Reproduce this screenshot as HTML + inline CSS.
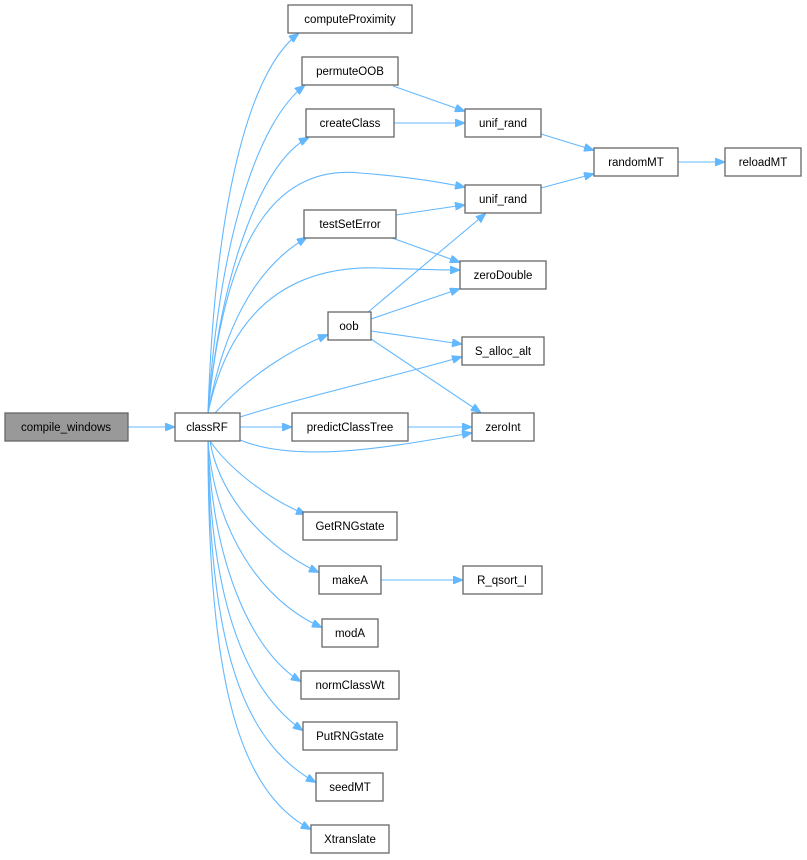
<!DOCTYPE html>
<html><head><meta charset="utf-8"><style>
body{margin:0;background:#fff}
svg{display:block}
text{font-family:"Liberation Sans",sans-serif;font-size:11.5px;fill:#000;text-anchor:middle}
.n{fill:#fff;stroke:#666;stroke-width:1.3}
.e{fill:none;stroke:#63b8ff;stroke-width:1.1}
</style></head><body>
<svg width="807" height="860" viewBox="0 0 807 860">
<defs><marker id="a" markerWidth="10" markerHeight="8" refX="9" refY="4" orient="auto" markerUnits="userSpaceOnUse"><path d="M0,0 L10,4 L0,8z" fill="#63b8ff" stroke="#63b8ff"/></marker></defs>
<g class="e" marker-end="url(#a)">
<path d="M128,427 H174"/>
<path d="M240,427 H291"/>
<path d="M208,413 C215,200 250,70 298,34"/>
<path d="M208,413 C220,230 260,120 304,86"/>
<path d="M208,413 C222,260 265,160 308,138"/>
<path d="M208,413 C225,230 280,165 360,173 C400,176 430,180 464,187"/>
<path d="M208,413 C225,320 260,265 306,238"/>
<path d="M208,413 C230,310 290,265 380,268 C410,269 440,270 459,270"/>
<path d="M215,413 C250,375 290,350 327,335"/>
<path d="M240,417 C310,395 400,375 461,357"/>
<path d="M240,440 C300,465 400,445 471,433"/>
<path d="M210,441 C230,470 270,500 305,514"/>
<path d="M210,441 C220,500 270,550 318,572"/>
<path d="M208,441 C215,530 260,600 321,627"/>
<path d="M208,441 C212,560 250,650 300,681"/>
<path d="M208,441 C210,600 245,690 302,730"/>
<path d="M208,441 C209,640 240,740 315,782"/>
<path d="M208,441 C208,680 238,790 310,829"/>
<path d="M393,86 L464,111"/>
<path d="M394,123 H464"/>
<path d="M541,134 L593,150"/>
<path d="M541,188 L593,174"/>
<path d="M678,162 H724"/>
<path d="M396,215 L464,205"/>
<path d="M392,238 L459,262"/>
<path d="M367,313 L485,214"/>
<path d="M371,319 L459,289"/>
<path d="M371,331 L461,344"/>
<path d="M371,339 L480,412"/>
<path d="M408,427 H471"/>
<path d="M381,580 H462"/>
</g>
<g>
<rect x="5" y="413" width="123" height="28" fill="#999" stroke="#666" stroke-width="1.3"/><text x="66" y="431">compile_windows</text>
<rect class="n" x="175" y="413" width="65" height="28"/><text x="207" y="431">classRF</text>
<rect class="n" x="288" y="5" width="124" height="28"/><text x="350" y="23">computeProximity</text>
<rect class="n" x="302" y="57" width="96" height="28"/><text x="350" y="75">permuteOOB</text>
<rect class="n" x="306" y="109" width="88" height="28"/><text x="350" y="127">createClass</text>
<rect class="n" x="304" y="210" width="92" height="28"/><text x="350" y="228">testSetError</text>
<rect class="n" x="328" y="312" width="43" height="28"/><text x="349" y="330">oob</text>
<rect class="n" x="292" y="413" width="116" height="28"/><text x="350" y="431">predictClassTree</text>
<rect class="n" x="465" y="109" width="76" height="28"/><text x="503" y="127">unif_rand</text>
<rect class="n" x="465" y="185" width="76" height="28"/><text x="503" y="203">unif_rand</text>
<rect class="n" x="594" y="148" width="84" height="28"/><text x="636" y="166">randomMT</text>
<rect class="n" x="725" y="148" width="76" height="28"/><text x="763" y="166">reloadMT</text>
<rect class="n" x="460" y="261" width="86" height="28"/><text x="503" y="279">zeroDouble</text>
<rect class="n" x="462" y="337" width="82" height="28"/><text x="503" y="355">S_alloc_alt</text>
<rect class="n" x="472" y="413" width="62" height="28"/><text x="503" y="431">zeroInt</text>
<rect class="n" x="303" y="512" width="94" height="28"/><text x="350" y="530">GetRNGstate</text>
<rect class="n" x="319" y="566" width="62" height="28"/><text x="350" y="584">makeA</text>
<rect class="n" x="463" y="566" width="79" height="28"/><text x="502" y="584">R_qsort_I</text>
<rect class="n" x="322" y="619" width="56" height="28"/><text x="350" y="637">modA</text>
<rect class="n" x="301" y="671" width="98" height="28"/><text x="350" y="689">normClassWt</text>
<rect class="n" x="303" y="722" width="94" height="28"/><text x="350" y="740">PutRNGstate</text>
<rect class="n" x="316" y="773" width="67" height="28"/><text x="350" y="791">seedMT</text>
<rect class="n" x="311" y="825" width="78" height="28"/><text x="350" y="843">Xtranslate</text>
</g>
</svg>
</body></html>
